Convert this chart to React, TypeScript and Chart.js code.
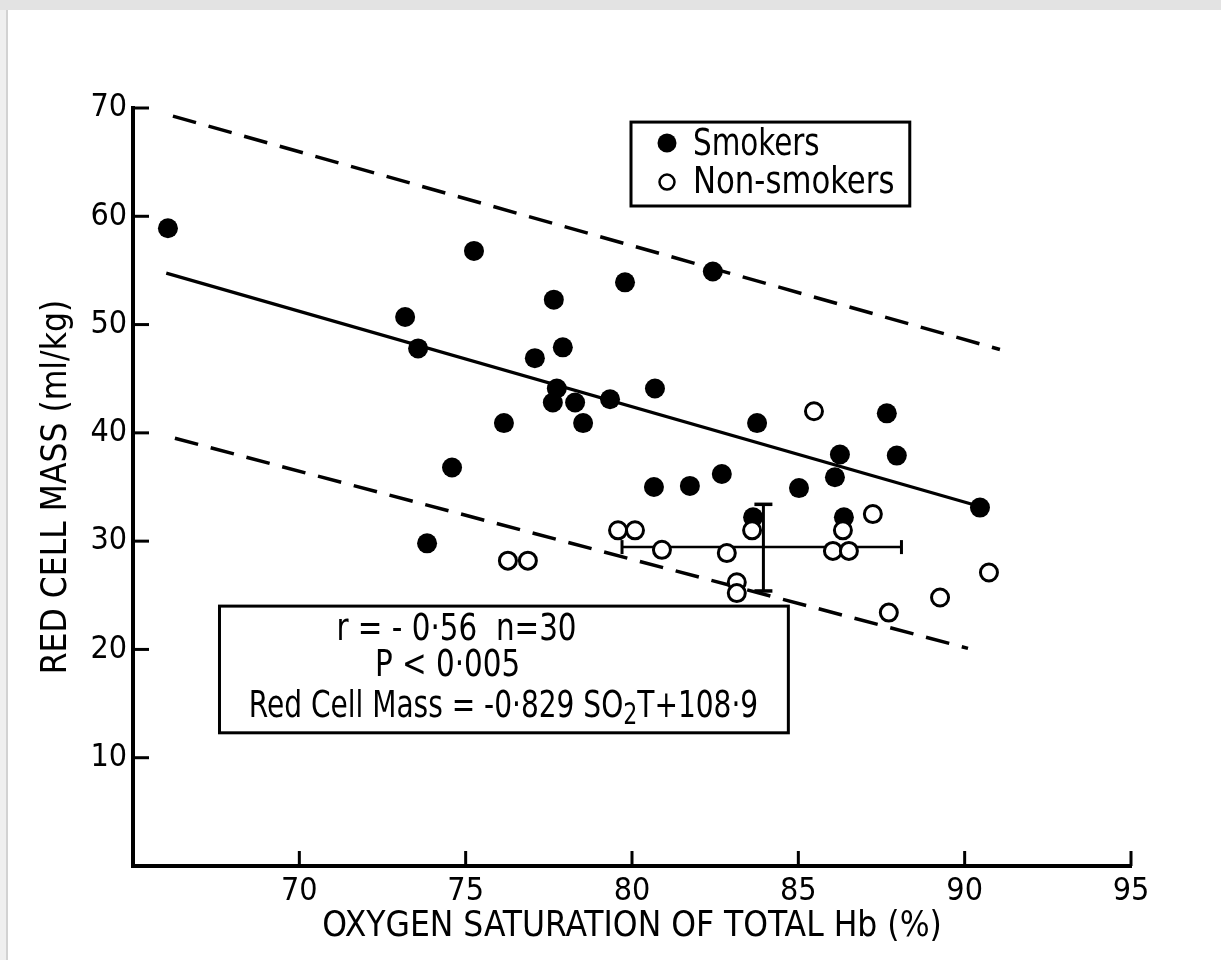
import React, { useEffect, useRef } from 'react';
import { Chart, registerables } from 'chart.js';

Chart.register(...registerables);

// ---------- data ----------
const smokersX = [66.05, 75.25, 73.18, 73.57, 77.65, 79.79, 82.43, 77.08, 77.92, 77.74, 77.62, 78.29, 78.53, 79.34, 80.69, 76.15, 74.59, 73.84, 80.66, 81.74, 82.7, 83.76, 83.64, 85.02, 86.1, 86.25, 87.66, 87.96, 86.37, 90.46];
const smokersY = [58.9, 56.8, 50.7, 47.8, 52.3, 53.9, 54.9, 46.9, 47.9, 44.1, 42.8, 42.8, 40.9, 43.1, 44.1, 40.9, 36.8, 29.8, 35.0, 35.1, 36.2, 40.9, 32.2, 34.9, 35.9, 38.0, 41.8, 37.9, 32.2, 33.1];

const nonSmokersX = [85.47, 87.24, 79.58, 80.09, 76.27, 76.87, 80.9, 82.85, 83.61, 83.15, 83.15, 86.04, 86.52, 86.34, 87.72, 89.26, 90.73];
const nonSmokersY = [42.0, 32.5, 31.0, 31.0, 28.2, 28.2, 29.2, 28.9, 31.0, 26.2, 25.2, 29.1, 29.1, 31.0, 23.4, 24.8, 27.1];

const regressionX = [66.0, 90.46];
const regressionY = [54.75, 33.2];
const upperLimitX = [66.2, 91.06];
const upperLimitY = [69.25, 47.7];
const lowerLimitX = [66.26, 90.1];
const lowerLimitY = [39.5, 20.1];

const meanX = 83.95;
const meanY = 29.45;
const sdXRange = [79.7, 88.1];
const sdYRange = [25.4, 33.4];

const xTicks = [70, 75, 80, 85, 90, 95];
const yTicks = [10, 20, 30, 40, 50, 60, 70];

const seriesLabels = ['Smokers', 'Non-smokers'];
const xTitle = 'OXYGEN SATURATION OF TOTAL Hb (%)';
const yTitle = 'RED CELL MASS (ml/kg)';
const statsLine1 = 'r = - 0·56  n=30';
const statsLine2 = 'P < 0·005';
const statsLine3a = 'Red Cell Mass = -0·829 SO';
const statsLine3sub = '2';
const statsLine3b = 'T+108·9';

const FONT = '"DejaVu Sans Condensed", "Liberation Sans Narrow", "Liberation Sans", sans-serif';

const pts = (xs: number[], ys: number[]) => xs.map((v, i) => ({ x: v, y: ys[i] }));

// draws real canvas text, horizontally condensed to mimic the stencil lettering
function condensedText(ctx: CanvasRenderingContext2D, text: string, x: number, y: number, size: number, sx: number, align: CanvasTextAlign) {
  ctx.save();
  ctx.font = `${size}px ${FONT}`;
  ctx.textAlign = align;
  ctx.textBaseline = 'middle';
  ctx.translate(x, y);
  ctx.scale(sx, 1);
  ctx.fillText(text, 0, 0);
  ctx.restore();
}

function textWidth(ctx: CanvasRenderingContext2D, text: string, size: number, sx: number) {
  ctx.save();
  ctx.font = `${size}px ${FONT}`;
  const w = ctx.measureText(text).width * sx;
  ctx.restore();
  return w;
}

const decorPlugin = {
  id: 'decor',
  beforeDraw(chart: any) {
    const { ctx, width, height } = chart;
    ctx.save();
    ctx.fillStyle = '#ffffff';
    ctx.fillRect(0, 0, width, height);
    ctx.fillStyle = '#e3e3e3';
    ctx.fillRect(0, 0, width, 10);
    ctx.fillStyle = '#efefef';
    ctx.fillRect(0, 10, 7, height);
    ctx.fillStyle = '#d2d2d2';
    ctx.fillRect(6, 10, 2, height);
    ctx.restore();
  },
  afterDraw(chart: any) {
    const { ctx, chartArea } = chart;
    const x = chart.scales.x;
    const y = chart.scales.y;
    ctx.save();
    ctx.strokeStyle = '#000';
    ctx.fillStyle = '#000';
    // inward tick marks
    ctx.lineWidth = 3;
    xTicks.forEach((v) => {
      const px = x.getPixelForValue(v);
      ctx.beginPath();
      ctx.moveTo(px, chartArea.bottom);
      ctx.lineTo(px, chartArea.bottom - 15);
      ctx.stroke();
    });
    yTicks.forEach((v) => {
      const py = y.getPixelForValue(v);
      ctx.beginPath();
      ctx.moveTo(chartArea.left, py);
      ctx.lineTo(chartArea.left + 16, py);
      ctx.stroke();
    });

    // legend box
    const lx1 = x.getPixelForValue(79.97);
    const lx2 = x.getPixelForValue(88.35);
    const ly1 = y.getPixelForValue(68.7);
    const ly2 = y.getPixelForValue(60.95);
    ctx.lineWidth = 3;
    ctx.fillStyle = '#fff';
    ctx.fillRect(lx1, ly1, lx2 - lx1, ly2 - ly1);
    ctx.strokeRect(lx1, ly1, lx2 - lx1, ly2 - ly1);
    ctx.fillStyle = '#000';
    ctx.beginPath();
    ctx.arc(lx1 + 36, ly1 + 21, 9.5, 0, Math.PI * 2);
    ctx.fill();
    ctx.beginPath();
    ctx.lineWidth = 2.5;
    ctx.arc(lx1 + 36, ly1 + 60, 7.5, 0, Math.PI * 2);
    ctx.stroke();
    condensedText(ctx, seriesLabels[0], lx1 + 62, ly1 + 23, 38, 0.86, 'left');
    condensedText(ctx, seriesLabels[1], lx1 + 62, ly1 + 61, 38, 0.9, 'left');

    // statistics box
    const bx1 = x.getPixelForValue(67.6);
    const bx2 = x.getPixelForValue(84.7);
    const by1 = y.getPixelForValue(24.0);
    const by2 = y.getPixelForValue(12.3);
    ctx.lineWidth = 3;
    ctx.fillStyle = '#fff';
    ctx.fillRect(bx1, by1, bx2 - bx1, by2 - by1);
    ctx.strokeRect(bx1, by1, bx2 - bx1, by2 - by1);
    ctx.fillStyle = '#000';
    condensedText(ctx, statsLine1, bx1 + 237, by1 + 24, 38, 0.86, 'center');
    condensedText(ctx, statsLine2, bx1 + 228, by1 + 60, 38, 0.86, 'center');
    // line 3 with subscript
    const sxA = 0.82;
    const wA = textWidth(ctx, statsLine3a, 38, sxA);
    const wS = textWidth(ctx, statsLine3sub, 30, sxA);
    const wB = textWidth(ctx, statsLine3b, 38, sxA);
    let cx = bx1 + 284 - (wA + wS + wB) / 2;
    const cy = by1 + 101;
    condensedText(ctx, statsLine3a, cx, cy, 38, sxA, 'left');
    cx += wA;
    condensedText(ctx, statsLine3sub, cx, cy + 9, 30, sxA, 'left');
    cx += wS;
    condensedText(ctx, statsLine3b, cx, cy, 38, sxA, 'left');
    ctx.restore();
  },
};

export default function App() {
  const canvasRef = useRef<HTMLCanvasElement | null>(null);

  useEffect(() => {
    if (!canvasRef.current) return;
    const chart = new Chart(canvasRef.current, {
      type: 'scatter',
      data: {
        datasets: [
          {
            label: seriesLabels[1],
            data: pts(nonSmokersX, nonSmokersY),
            pointRadius: 8.5,
            pointBackgroundColor: '#ffffff',
            pointBorderColor: '#000000',
            pointBorderWidth: 3,
          } as any,
          {
            label: seriesLabels[0],
            data: pts(smokersX, smokersY),
            pointRadius: 10,
            pointBackgroundColor: '#000000',
            pointBorderColor: '#000000',
            pointBorderWidth: 0,
          } as any,
          {
            type: 'line',
            label: 'SD x',
            data: pts(sdXRange, [meanY, meanY]),
            borderColor: '#000',
            borderWidth: 2.5,
            pointStyle: 'line',
            rotation: 90,
            pointRadius: 7,
            pointBorderWidth: 3,
            pointBorderColor: '#000',
          } as any,
          {
            type: 'line',
            label: 'SD y',
            data: pts([meanX, meanX], sdYRange),
            borderColor: '#000',
            borderWidth: 3,
            pointStyle: 'line',
            rotation: 0,
            pointRadius: 9,
            pointBorderWidth: 3.5,
            pointBorderColor: '#000',
          } as any,
          {
            type: 'line',
            label: 'Regression',
            data: pts(regressionX, regressionY),
            borderColor: '#000',
            borderWidth: 3.2,
            pointRadius: 0,
          } as any,
          {
            type: 'line',
            label: 'Upper limit',
            data: pts(upperLimitX, upperLimitY),
            borderColor: '#000',
            borderWidth: 3.5,
            borderDash: [24, 13],
            pointRadius: 0,
          } as any,
          {
            type: 'line',
            label: 'Lower limit',
            data: pts(lowerLimitX, lowerLimitY),
            borderColor: '#000',
            borderWidth: 3.5,
            borderDash: [24, 13],
            pointRadius: 0,
          } as any,
        ],
      },
      options: {
        responsive: false,
        animation: false,
        events: [],
        devicePixelRatio: 1,
        layout: { padding: { top: 108, right: 90, left: 0, bottom: 0 } },
        plugins: {
          legend: { display: false },
          tooltip: { enabled: false },
        },
        scales: {
          x: {
            type: 'linear',
            min: 65,
            max: 95,
            grid: { display: false, drawTicks: false },
            border: { display: true, color: '#000', width: 4 },
            afterBuildTicks: (s: any) => {
              s.ticks = [65, ...xTicks].map((v) => ({ value: v }));
            },
            afterFit: (s: any) => {
              s.height = 94;
            },
            ticks: {
              autoSkip: false,
              maxRotation: 0,
              padding: 6,
              color: '#000',
              font: { family: FONT, size: 32 },
              callback: (v: any) => (xTicks.includes(Number(v)) ? String(v) : ''),
            },
            title: {
              display: true,
              text: xTitle,
              color: '#000',
              font: { family: FONT, size: 35 },
              padding: { top: 0, bottom: 12 },
            },
          },
          y: {
            type: 'linear',
            min: 0,
            max: 70,
            grid: { display: false, drawTicks: false },
            border: { display: true, color: '#000', width: 4 },
            afterBuildTicks: (s: any) => {
              s.ticks = [0, ...yTicks].map((v) => ({ value: v }));
            },
            afterFit: (s: any) => {
              s.width = 133;
            },
            ticks: {
              autoSkip: false,
              padding: 6,
              color: '#000',
              font: { family: FONT, size: 32 },
              callback: (v: any) => (yTicks.includes(Number(v)) ? String(v) : ''),
            },
            title: {
              display: true,
              text: yTitle,
              color: '#000',
              font: { family: FONT, size: 35 },
              padding: { top: 36, bottom: 0 },
            },
          },
        },
      },
      plugins: [decorPlugin],
    });
    return () => chart.destroy();
  }, []);

  return (
    <div style={{ position: 'absolute', left: 0, top: 0, width: 1221, height: 960, background: '#fff' }}>
      <canvas ref={canvasRef} width={1221} height={960} style={{ display: 'block', width: 1221, height: 960 }} />
    </div>
  );
}
